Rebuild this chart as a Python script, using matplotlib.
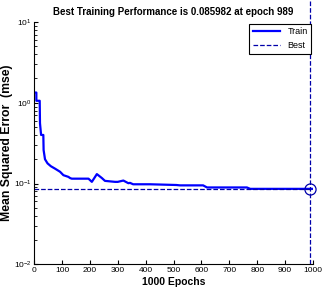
import matplotlib.pyplot as plt

plt.rcParams['font.family'] = ['Liberation Sans', 'DejaVu Sans']

# training performance (epoch, mse)
epochs = [0, 8, 8, 20, 21, 25, 33, 34, 39, 48, 60, 75, 93, 105, 123, 129, 135,
          195, 207, 225, 243, 254, 290, 300, 320, 338, 344, 355, 416, 510, 523,
          606, 620, 763, 775, 943, 989, 1000]
mse = [1.34, 1.34, 1.06, 1.06, 0.56, 0.40, 0.40, 0.26, 0.20, 0.178, 0.164,
       0.153, 0.140, 0.127, 0.121, 0.117, 0.115, 0.115, 0.105, 0.131, 0.117,
       0.108, 0.105, 0.105, 0.109, 0.101, 0.102, 0.098, 0.098, 0.096, 0.095,
       0.095, 0.0895, 0.0895, 0.086, 0.086, 0.0860, 0.0860]
best_epoch = 989
best_perf = 0.085982

fig = plt.figure(figsize=(3.25, 2.98), dpi=100)
ax = fig.add_axes([0.105, 0.113, 0.858, 0.813])

ax.semilogy(epochs, mse, color='#0000ff', lw=1.6, label='Train')
ax.plot([0, 1000], [best_perf, best_perf], '--', color='#0000aa', lw=0.9, label='Best')
ax.plot([best_epoch, best_epoch], [1e-2, 20], '--', color='#0000aa', lw=0.9, clip_on=False)
ax.plot(best_epoch, best_perf, 'o', mfc='none', mec='#0000aa', ms=8, mew=0.9, clip_on=False)

ax.set_xlim(0, 1000)
ax.set_ylim(1e-2, 1e1)
ax.set_xticks(range(0, 1001, 100))
ax.spines['top'].set_visible(False)
ax.spines['right'].set_visible(False)
ax.tick_params(which='both', direction='in', labelsize=6, length=3, pad=2)
ax.tick_params(which='minor', length=1.8)

ax.set_title('Best Training Performance is 0.085982 at epoch 989', fontsize=7,
             fontweight='bold', pad=5)
ax.set_xlabel('1000 Epochs', fontsize=7.5, fontweight='bold', labelpad=2)
ax.set_ylabel('Mean Squared Error  (mse)', fontsize=8.8, fontweight='bold')
ax.yaxis.set_label_coords(-0.075, 0.5)

leg = ax.legend(loc='upper right', fontsize=6.5, fancybox=False, framealpha=1,
                edgecolor='black', handlelength=3, borderaxespad=0.2)
leg.get_frame().set_linewidth(0.8)

fig.savefig('out.png', dpi=100)
